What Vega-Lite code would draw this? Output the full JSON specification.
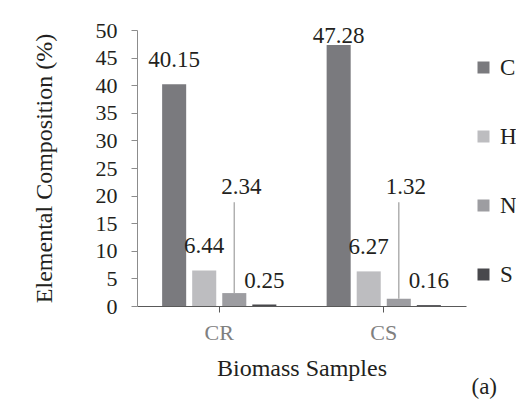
{
  "$schema": "https://vega.github.io/schema/vega-lite/v6.json",
  "width": 329,
  "height": 276,
  "autosize": {"type": "none"},
  "padding": {"left": 137, "top": 30, "right": 50, "bottom": 94},
  "background": "white",
  "config": {
    "view": {"stroke": null},
    "font": "Liberation Serif",
    "text": {"font": "Liberation Serif", "fontSize": 23, "color": "#231f20"},
    "axis": {"labelFont": "Liberation Serif", "titleFont": "Liberation Serif", "labelFontSize": 22, "titleFontSize": 24, "titleFontWeight": "normal", "grid": false, "labelColor": "#231f20", "titleColor": "#231f20"},
    "legend": {"labelFont": "Liberation Serif", "labelFontSize": 23, "labelColor": "#231f20"}
  },
  "title": {"text": "(a)", "orient": "bottom", "anchor": "end", "frame": "group", "font": "Liberation Serif", "fontSize": 23, "fontWeight": "normal", "color": "#231f20", "dx": 31, "dy": -8},
  "data": {"values": [
    {"Sample": "CR", "Element": "C", "Value": 40.15},
    {"Sample": "CR", "Element": "H", "Value": 6.44},
    {"Sample": "CR", "Element": "N", "Value": 2.34},
    {"Sample": "CR", "Element": "S", "Value": 0.25},
    {"Sample": "CS", "Element": "C", "Value": 47.28},
    {"Sample": "CS", "Element": "H", "Value": 6.27},
    {"Sample": "CS", "Element": "N", "Value": 1.32},
    {"Sample": "CS", "Element": "S", "Value": 0.16}
  ]},
  "encoding": {
    "x": {"field": "Sample", "type": "nominal", "scale": {"paddingInner": 0.28, "paddingOuter": 0.14},
      "axis": {"title": "Biomass Samples", "labelAngle": 0, "labelColor": "#808080", "domainColor": "#595959", "tickColor": "#595959", "tickSize": 6, "labelPadding": 10, "titlePadding": 13}},
    "xOffset": {"field": "Element", "type": "nominal", "scale": {"paddingInner": 0.2, "paddingOuter": 0.07}},
    "y": {"field": "Value", "type": "quantitative", "scale": {"domain": [0, 50], "nice": false},
      "axis": {"title": "Elemental Composition (%)", "values": [0,5,10,15,20,25,30,35,40,45,50], "domainColor": "#8c8c8c", "tickColor": "#8c8c8c", "tickSize": 6, "labelPadding": 14, "titlePadding": 39}}
  },
  "layer": [
    {
      "mark": {"type": "bar"},
      "encoding": {
        "color": {"field": "Element", "type": "nominal",
          "scale": {"domain": ["C", "H", "N", "S"], "range": ["#7a7a7e", "#bdbdc0", "#9d9da1", "#48484c"]},
          "legend": {"title": null, "orient": "none", "legendX": 335, "legendY": 26, "symbolType": "square", "symbolSize": 144, "symbolStrokeWidth": 0, "labelOffset": 5, "rowPadding": 45, "padding": 0}}
      }
    },
    {
      "transform": [{"filter": "datum.Element != 'N' && !(datum.Sample == 'CS' && datum.Element == 'C')"}],
      "mark": {"type": "text", "baseline": "alphabetic", "dy": -17},
      "encoding": {"text": {"field": "Value", "type": "quantitative", "format": ".2f"}}
    },
    {
      "transform": [{"filter": "datum.Sample == 'CS' && datum.Element == 'C'"}],
      "mark": {"type": "text", "baseline": "alphabetic", "dy": -2},
      "encoding": {"text": {"field": "Value", "type": "quantitative", "format": ".2f"}}
    },
    {
      "transform": [{"filter": "datum.Element == 'N'"}],
      "mark": {"type": "rule", "color": "#b0b0b0", "strokeWidth": 1.5},
      "encoding": {"y2": {"datum": 18.8}}
    },
    {
      "transform": [{"filter": "datum.Element == 'N'"}],
      "mark": {"type": "text", "baseline": "alphabetic", "dx": 7},
      "encoding": {"y": {"datum": 20.3}, "text": {"field": "Value", "type": "quantitative", "format": ".2f"}}
    }
  ]
}
